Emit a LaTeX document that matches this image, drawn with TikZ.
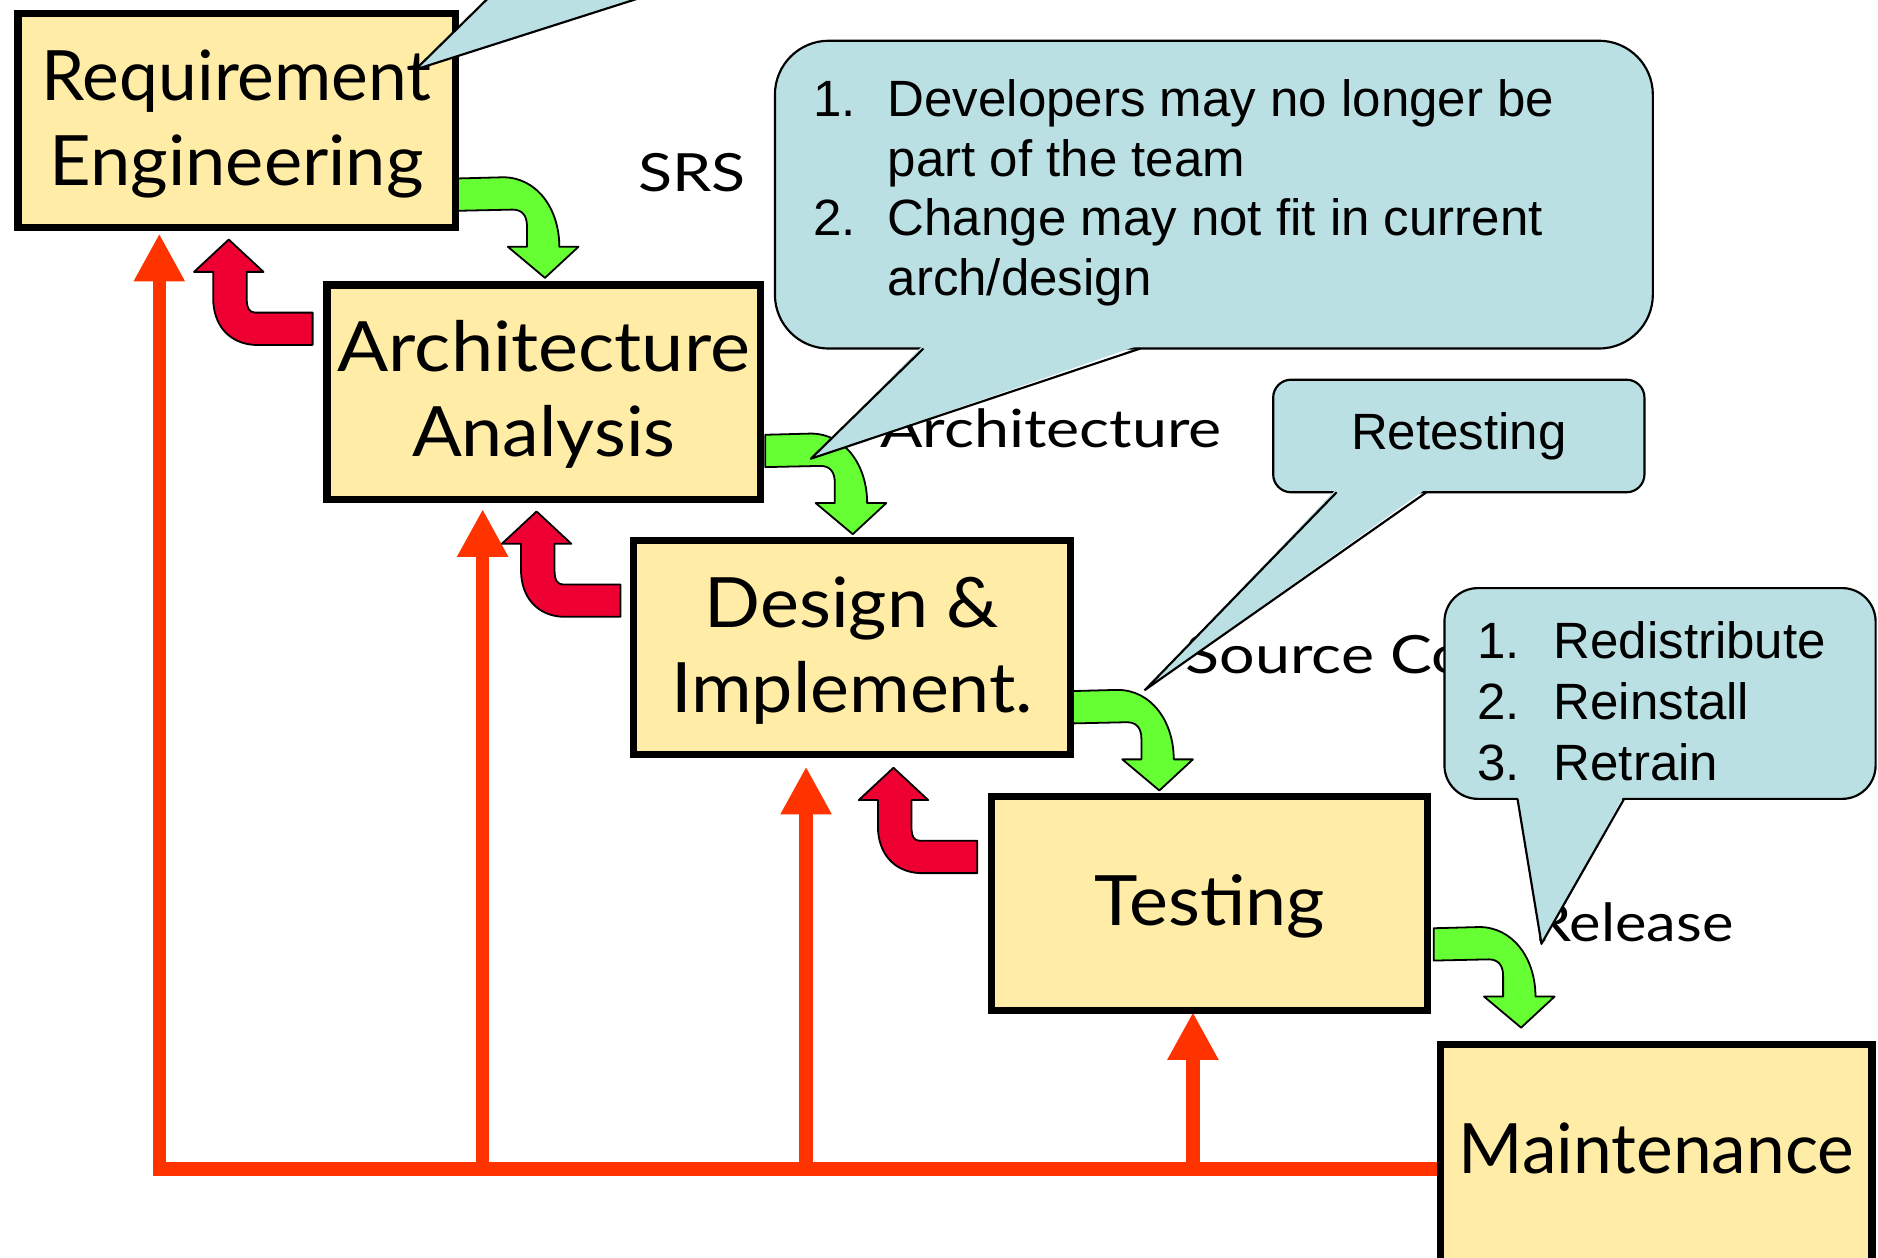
\documentclass[tikz,border=0pt]{standalone}
\usepackage{fontspec}
\setmainfont{Liberation Sans}
\newfontfamily\handfont{Lato}
\usetikzlibrary{arrows.meta,calc}
\definecolor{boxfill}{HTML}{FFECA6}
\definecolor{callfill}{HTML}{BAE0E3}
\definecolor{fwdgreen}{HTML}{66FF33}
\definecolor{backred}{HTML}{EE0033}
\definecolor{looporange}{HTML}{FF3300}
\newcommand\boxword[1]{\scalebox{1.06}[1]{#1}}
\newcommand\labword[1]{\scalebox{1.19}[1]{#1}}
\tikzset{
  phase/.style={draw=black, line width=6pt, fill=boxfill, inner sep=0pt,
    minimum width=365pt, minimum height=179pt, align=center,
    font=\handfont\fontsize{58}{71}\selectfont},
  twoline/.style={text height=120pt, text depth=12pt},
  oneline/.style={text height=48pt, text depth=12pt},
  flowlabel/.style={font=\handfont\fontsize{44}{50}\selectfont, anchor=base west, inner sep=0pt},
  balloon/.style={draw=black, line width=1.8pt, fill=callfill, inner sep=0pt},
  balloonedge/.style={draw=black, line width=1.8pt, line join=round},
  balloontext/.style={font=\fontsize{42.6}{49}\selectfont, anchor=base west, inner sep=0pt},
  fwdshape/.style={draw=black, line width=1.5pt, fill=fwdgreen, line join=round},
  backshape/.style={draw=black, line width=1.5pt, fill=backred, line join=round},
  loopline/.style={draw=looporange, line width=11pt},
  looptip/.style={-{Triangle[width=40pt,length=40pt]}},
  fwdbend/.pic={\path[fwdshape] (0,0) -- (38,-1) .. controls (66,-1) and (85,25) .. (85,57)
      -- (101,57) -- (73,83) -- (42,57) -- (58,57) -- (58,40)
      .. controls (58,31) and (54,26) .. (46,26) -- (0,27) -- cycle;},
  backbend/.pic={\path[backshape] (0,0) -- (-48,0) .. controls (-53,0) and (-55,-4) .. (-55,-12)
      -- (-55,-34) -- (-41,-34) -- (-70,-61) -- (-99,-34) -- (-83,-34) -- (-83,-12)
      .. controls (-83,10) and (-70,26) .. (-48,27) -- (0,27) -- cycle;}
}
\begin{document}
\begin{tikzpicture}[x=1pt,y=-1pt]
\useasboundingbox (0,0) rectangle (1568,1050);
\clip (0,0) rectangle (1568,1050);
\fill[white] (0,0) rectangle (1568,1050);

% feedback lines
\coordinate (hub1) at (133,976);
\coordinate (hub2) at (403,976);
\coordinate (hub3) at (673,976);
\coordinate (hub4) at (996,976);
\coordinate (maintleft) at (1200,976);
\coordinate (loopstart) at (127.5,976);
\coordinate (tip1) at (133,195);
\coordinate (tip2) at (403,425);
\coordinate (tip3) at (673,640);
\coordinate (tip4) at (996,845);
\draw[loopline] (loopstart) -- (maintleft);
\draw[loopline,looptip] (hub1) -- (tip1);
\draw[loopline,looptip] (hub2) -- (tip2);
\draw[loopline,looptip] (hub3) -- (tip3);
\draw[loopline,looptip] (hub4) -- (tip4);

% block arrows
\pic (fwd1) at (382,149) {fwdbend};
\pic (fwd2) at (639,363) {fwdbend};
\pic (fwd3) at (895,577) {fwdbend};
\pic (fwd4) at (1197,775) {fwdbend};
\pic (back1) at (261,261) {backbend};
\pic (back2) at (518,488) {backbend};
\pic (back3) at (816,702) {backbend};

% phase boxes
\node[phase, twoline] (req) at (197.5,100.5) {\scalebox{1.0}[1]{Requirement}\\\scalebox{1.04}[1]{Engineering}};
\node[phase, twoline, minimum width=362pt] (arch) at (454,327.5) {\scalebox{1.09}[1]{Architecture}\\\boxword{Analysis}};
\node[phase, twoline] (des) at (711.5,540.5) {\boxword{Design \&}\\\boxword{Implement.}};
\node[phase, oneline, minimum width=364pt] (test) at (1010,754.5) {\boxword{Testing}};
\node[phase, minimum width=360pt, minimum height=200pt, text height=45pt, text depth=29pt] (maint) at (1383,972) {Maintenance};

% flow labels
\node[flowlabel] (srs) at (533,160) {\labword{SRS}};
\node[flowlabel] (archlbl) at (735,374) {\labword{Architecture}};
\node[flowlabel] (srclbl) at (990,562) {\labword{Source Code}};
\node[flowlabel] (rellbl) at (1281,786) {\scalebox{1.13}[1]{Release}};

% callout at top (body off the page)
\coordinate (rqtip) at (347,58);
\coordinate (rqa) at (436.5,-30);
\coordinate (rqb) at (623,-30);
\fill[callfill] (rqa) -- (rqtip) -- (rqb) -- cycle;
\draw[balloonedge] (rqa) -- (rqtip) -- (rqb);

% big callout
\node[balloon, rounded corners=45pt, minimum width=733pt, minimum height=257pt] (devnote) at (1013.5,162.5) {};
\coordinate (dvtip) at (677,383);
\coordinate (dva) at (771,291);
\coordinate (dvb) at (952,291);
\fill[callfill] ($(dva)+(0,-3)$) -- (dvtip) -- ($(dvb)+(0,-3)$) -- cycle;
\draw[balloonedge] (dva) -- (dvtip) -- (dvb);
\node[balloontext] (dv1n) at (679,97) {1.};
\node[balloontext] (dv1t) at (741,97) {Developers may no longer be};
\node[balloontext] (dv1u) at (741,147) {part of the team};
\node[balloontext] (dv2n) at (679,197) {2.};
\node[balloontext] (dv2t) at (741,197) {Change may not fit in current};
\node[balloontext] (dv2u) at (741,247) {arch/design};

% retesting callout
\node[balloon, rounded corners=15pt, minimum width=310pt, minimum height=94pt,
      font=\fontsize{42.6}{49}\selectfont] (retest) at (1218,364) {Retesting};
\coordinate (rttip) at (956,576);
\coordinate (rta) at (1116,411);
\coordinate (rtb) at (1191,411);
\fill[callfill] ($(rta)+(0,-3)$) -- (rttip) -- ($(rtb)+(0,-3)$) -- cycle;
\draw[balloonedge] (rta) -- (rttip) -- (rtb);

% release callout
\node[balloon, rounded corners=28pt, minimum width=360pt, minimum height=176pt] (relnote) at (1386,579) {};
\coordinate (rltip) at (1287,788);
\coordinate (rla) at (1267,667);
\coordinate (rlb) at (1356,667);
\fill[callfill] ($(rla)+(0,-3)$) -- (rltip) -- ($(rlb)+(0,-3)$) -- cycle;
\draw[balloonedge] (rla) -- (rltip) -- (rlb);
\node[balloontext] (rl1n) at (1233,550) {1.};
\node[balloontext] (rl1t) at (1297,550) {Redistribute};
\node[balloontext] (rl2n) at (1233,601) {2.};
\node[balloontext] (rl2t) at (1297,601) {Reinstall};
\node[balloontext] (rl3n) at (1233,652) {3.};
\node[balloontext] (rl3t) at (1297,652) {Retrain};
\end{tikzpicture}
\end{document}
